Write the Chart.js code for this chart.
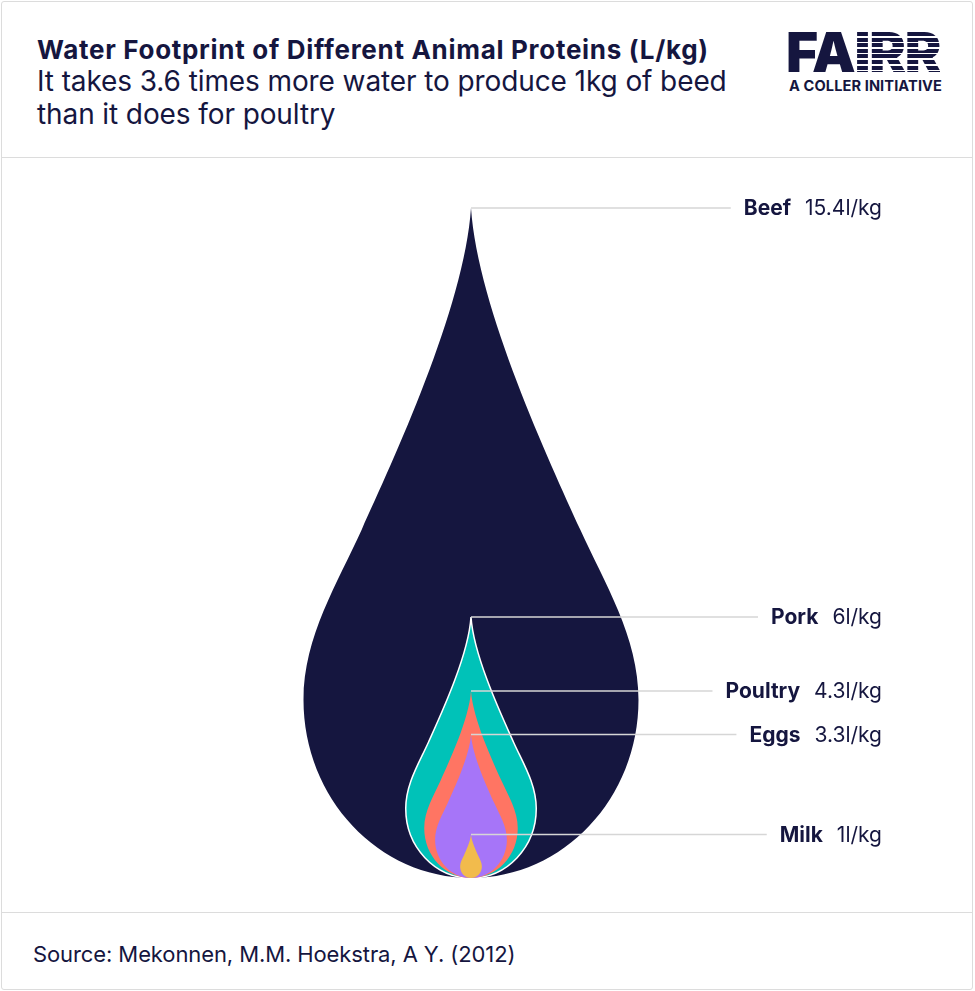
<!DOCTYPE html>
<html>
<head>
<meta charset="utf-8">
<script src="https://cdn.jsdelivr.net/npm/chart.js@4"></script>
<style>
  body { margin: 0; background: #fff; font-family: Inter, "Noto Sans", sans-serif; color: #15163f; }
  .card { position: absolute; left: 1px; top: 1px; width: 970px; height: 987px; border: 1.5px solid #dcdcdc; border-radius: 3px; }
  .divider { position: absolute; left: 1px; width: 972px; height: 0; border-top: 1.5px solid #dcdcdc; }
  .title { position: absolute; left: 37px; top: 35px; font-size: 26px; font-weight: 700; line-height: 30px; white-space: nowrap; letter-spacing: 0.7px; }
  .subtitle { position: absolute; left: 37px; top: 65px; font-size: 28px; font-weight: 400; line-height: 33px; white-space: nowrap; letter-spacing: -0.1px; }
  .logo { position: absolute; left: 786px; top: 23px; width: 170px; }
  .logo .word { font-size: 55px; font-weight: 900; line-height: 58px; letter-spacing: -1.2px; white-space: nowrap; }
  .logo .striped { background: repeating-linear-gradient(to bottom, #15163f 0 4px, transparent 4px 5.6px); background-position: 0 13px;
    -webkit-background-clip: text; background-clip: text; color: transparent; }
  .logo .tag { font-size: 14.6px; font-weight: 700; line-height: 15px; margin-top: -2px; margin-left: 3px; letter-spacing: 0.1px; white-space: nowrap; }
  .source { position: absolute; left: 33px; top: 941px; font-size: 22px; line-height: 26px; white-space: nowrap; letter-spacing: -0.1px; }
  #chart { position: absolute; left: 0; top: 158px; }
</style>
</head>
<body>
<div class="card"></div>
<div class="divider" style="top:157px"></div>
<div class="divider" style="top:912px"></div>
<div class="title">Water Footprint of Different Animal Proteins (L/kg)</div>
<div class="subtitle">It takes 3.6 times more water to produce 1kg of beed<br>than it does for poultry</div>
<div class="logo">
  <div class="word">FA<span class="striped">IRR</span></div>
  <div class="tag">A COLLER INITIATIVE</div>
</div>
<canvas id="chart" width="975" height="754"></canvas>
<div class="source">Source: Mekonnen, M.M. Hoekstra, A Y. (2012)</div>
<script>
const categories = ['Beef', 'Pork', 'Poultry', 'Eggs', 'Milk'];
const values = [15.4, 6, 4.3, 3.3, 1];
const valueLabels = ['15.4l/kg', '6l/kg', '4.3l/kg', '3.3l/kg', '1l/kg'];
const colors = ['#15163f', '#00c2b8', '#ff7563', '#a675f8', '#f2bb4c'];

// drop outline as fractions of its height, left half from tip to bottom
function dropPath(ctx, cx, top, bottom) {
  const h = bottom - top;
  const p = (fx, fy) => [cx + fx * h, top + fy * h];
  const left = [
    [[-0.01, 0.15], [-0.118, 0.38], [-0.163, 0.48]],
    [[-0.199, 0.56], [-0.25, 0.64], [-0.25, 0.734]],
    [[-0.25, 0.881], [-0.138, 1.0], [0, 1.0]]
  ];
  ctx.beginPath();
  ctx.moveTo(...p(0, 0));
  left.forEach(s => ctx.bezierCurveTo(...p(...s[0]), ...p(...s[1]), ...p(...s[2])));
  // right half: same curve mirrored, walked back up to the tip
  for (let k = left.length - 1; k >= 0; k--) {
    const start = k > 0 ? left[k - 1][2] : [0, 0];
    const s = left[k];
    ctx.bezierCurveTo(...p(-s[1][0], s[1][1]), ...p(-s[0][0], s[0][1]), ...p(-start[0], start[1]));
  }
  ctx.closePath();
}

const dropPlugin = {
  id: 'drops',
  afterDatasetsDraw(chart) {
    const ctx = chart.ctx;
    ctx.save();
    chart.data.datasets.forEach((ds, i) => {
      const el = chart.getDatasetMeta(i).data[0];
      dropPath(ctx, el.x, el.y, el.base);
      ctx.fillStyle = colors[i];
      ctx.fill();
      if (categories[i] === 'Pork') {
        ctx.strokeStyle = '#ffffff';
        ctx.lineWidth = 1.5;
        ctx.stroke();
      }
    });
    // leader lines and labels
    const rightX = 882;
    const nameFont = '700 21px Inter, "Noto Sans", sans-serif';
    const valFont = '400 21px Inter, "Noto Sans", sans-serif';
    chart.data.datasets.forEach((ds, i) => {
      const el = chart.getDatasetMeta(i).data[0];
      ctx.font = valFont;
      const vw = ctx.measureText(valueLabels[i]).width;
      ctx.font = nameFont;
      const nw = ctx.measureText(categories[i]).width;
      const nameRight = rightX - vw - 14;
      const lineEnd = nameRight - nw - 13;
      ctx.strokeStyle = '#d6d6d6';
      ctx.lineWidth = 1.5;
      ctx.beginPath();
      ctx.moveTo(el.x, el.y);
      ctx.lineTo(lineEnd, el.y);
      ctx.stroke();
      ctx.fillStyle = '#15163f';
      ctx.textBaseline = 'middle';
      ctx.textAlign = 'right';
      ctx.fillText(categories[i], nameRight, el.y + 1);
      ctx.font = valFont;
      ctx.fillText(valueLabels[i], rightX, el.y + 1);
    });
    ctx.restore();
  }
};

new Chart(document.getElementById('chart'), {
  type: 'bar',
  data: {
    labels: [''],
    datasets: categories.map((c, i) => ({
      label: c,
      data: [values[i]],
      backgroundColor: 'rgba(0,0,0,0)',
      grouped: false
    }))
  },
  options: {
    responsive: false,
    animation: false,
    layout: { padding: { top: 50, bottom: 34, left: 0, right: 33 } },
    plugins: { legend: { display: false }, tooltip: { enabled: false } },
    scales: {
      x: { display: false },
      y: { display: false, min: 0, max: values[0] }
    }
  },
  plugins: [dropPlugin]
});
</script>
</body>
</html>
